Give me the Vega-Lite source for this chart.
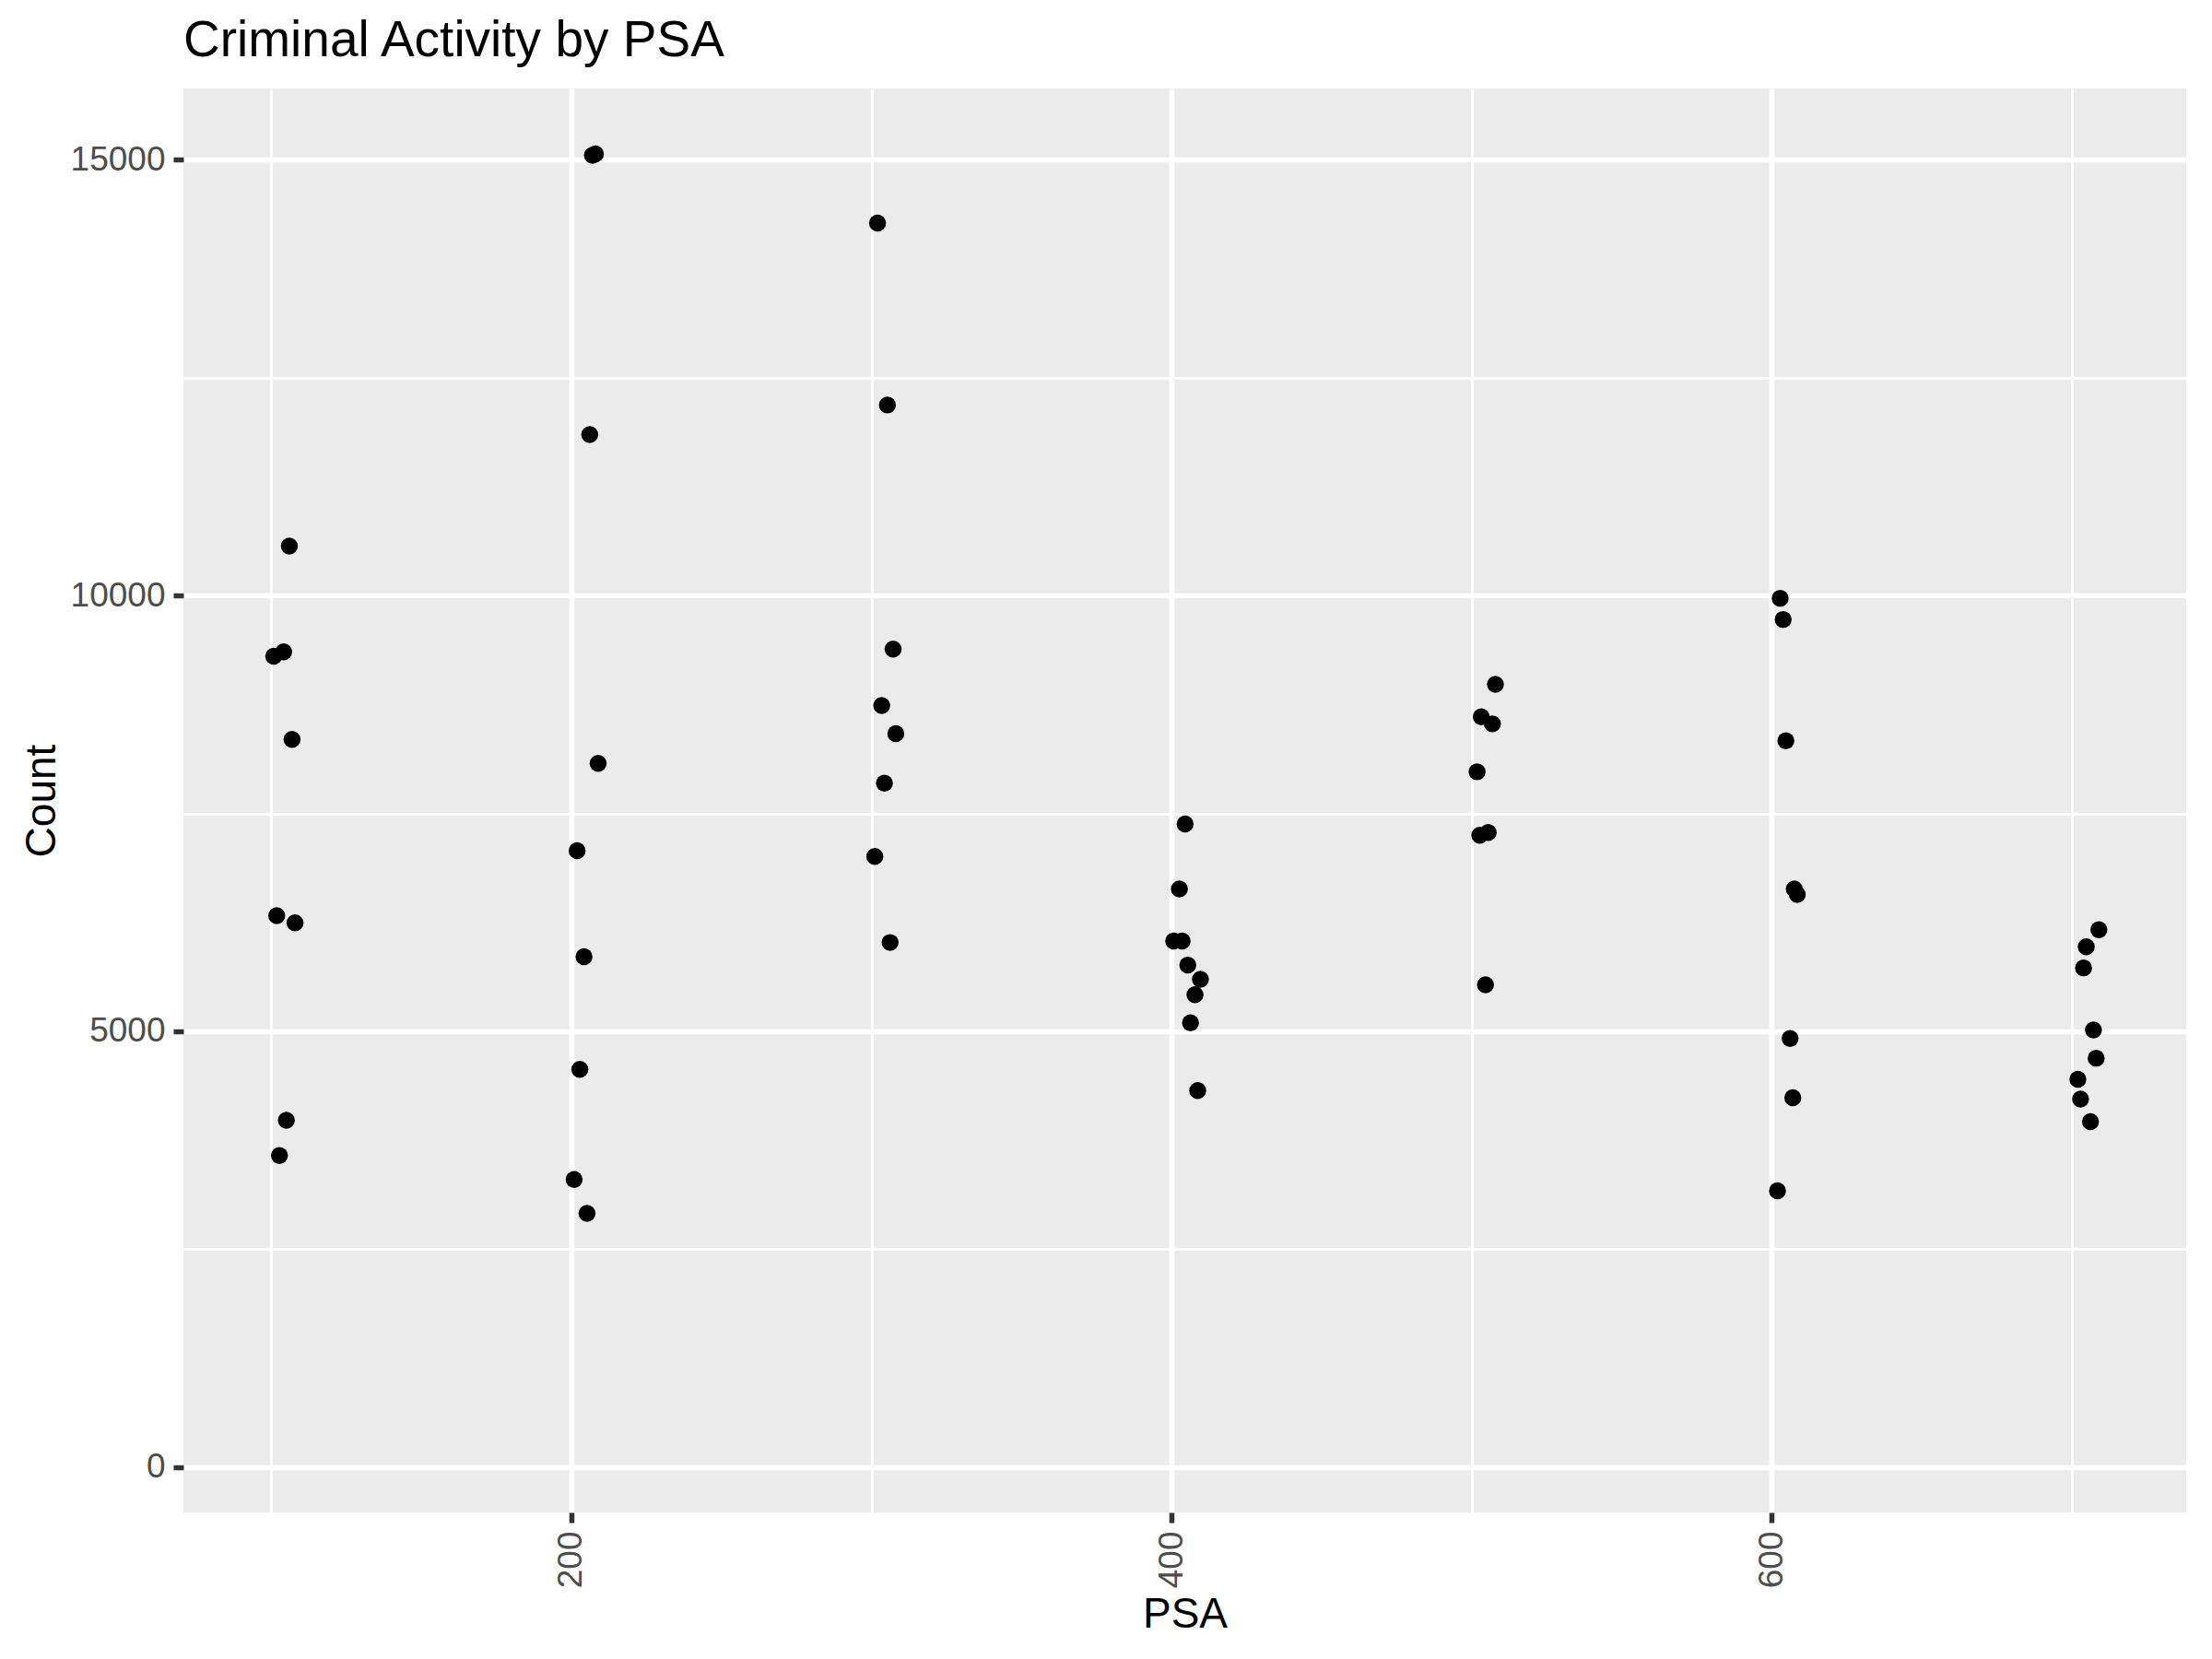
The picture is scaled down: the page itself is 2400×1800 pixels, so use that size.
{
  "$schema": "https://vega.github.io/schema/vega-lite/v6.json",
  "width": 2173,
  "height": 1545,
  "autosize": {"type": "none"},
  "padding": {"left": 199, "top": 96, "right": 28, "bottom": 159},
  "background": "white",
  "config": {
    "view": {"fill": "#EBEBEB", "stroke": null},
    "font": "Liberation Sans"
  },
  "title": {
    "text": "Criminal Activity by PSA",
    "anchor": "start",
    "frame": "group",
    "fontSize": 55,
    "fontWeight": "normal",
    "font": "Liberation Sans",
    "color": "black",
    "baseline": "alphabetic",
    "offset": -20
  },
  "data": {
    "values": [
      {"PSA": 106.0, "Count": 10566},
      {"PSA": 104.1, "Count": 9352},
      {"PSA": 100.8, "Count": 9303},
      {"PSA": 106.9, "Count": 8349},
      {"PSA": 101.8, "Count": 6326},
      {"PSA": 107.9, "Count": 6245},
      {"PSA": 105.0, "Count": 3980},
      {"PSA": 102.7, "Count": 3576},
      {"PSA": 208.0, "Count": 15064},
      {"PSA": 207.0, "Count": 15047},
      {"PSA": 206.1, "Count": 11844},
      {"PSA": 208.9, "Count": 8074},
      {"PSA": 201.9, "Count": 7071},
      {"PSA": 204.2, "Count": 5857},
      {"PSA": 202.8, "Count": 4563},
      {"PSA": 200.9, "Count": 3301},
      {"PSA": 205.2, "Count": 2912},
      {"PSA": 302.0, "Count": 14271},
      {"PSA": 305.3, "Count": 12184},
      {"PSA": 307.2, "Count": 9384},
      {"PSA": 303.4, "Count": 8737},
      {"PSA": 308.1, "Count": 8414},
      {"PSA": 304.3, "Count": 7847},
      {"PSA": 301.1, "Count": 7006},
      {"PSA": 306.2, "Count": 6019},
      {"PSA": 404.5, "Count": 7378},
      {"PSA": 402.6, "Count": 6634},
      {"PSA": 400.7, "Count": 6035},
      {"PSA": 403.5, "Count": 6035},
      {"PSA": 405.4, "Count": 5760},
      {"PSA": 409.6, "Count": 5598},
      {"PSA": 407.8, "Count": 5420},
      {"PSA": 406.3, "Count": 5097},
      {"PSA": 408.7, "Count": 4320},
      {"PSA": 507.9, "Count": 8980},
      {"PSA": 503.2, "Count": 8608},
      {"PSA": 506.9, "Count": 8527},
      {"PSA": 501.8, "Count": 7977},
      {"PSA": 505.5, "Count": 7281},
      {"PSA": 502.7, "Count": 7249},
      {"PSA": 504.6, "Count": 5534},
      {"PSA": 602.8, "Count": 9967},
      {"PSA": 603.8, "Count": 9724},
      {"PSA": 604.7, "Count": 8333},
      {"PSA": 607.5, "Count": 6634},
      {"PSA": 608.5, "Count": 6569},
      {"PSA": 606.1, "Count": 4919},
      {"PSA": 607.0, "Count": 4239},
      {"PSA": 601.9, "Count": 3171},
      {"PSA": 709.0, "Count": 6165},
      {"PSA": 704.8, "Count": 5970},
      {"PSA": 703.9, "Count": 5728},
      {"PSA": 707.2, "Count": 5016},
      {"PSA": 708.1, "Count": 4692},
      {"PSA": 702.0, "Count": 4450},
      {"PSA": 702.9, "Count": 4223},
      {"PSA": 706.2, "Count": 3964}
    ]
  },
  "mark": {"type": "circle", "size": 340, "color": "black", "opacity": 1},
  "encoding": {
    "x": {
      "field": "PSA",
      "type": "quantitative",
      "scale": {"domain": [70.7, 738.1], "nice": false, "zero": false},
      "axis": {
        "title": "PSA",
        "values": [100, 200, 300, 400, 500, 600, 700],
        "format": "d",
        "labelExpr": "datum.value % 200 === 0 ? datum.label : ''",
        "labelAngle": 270,
        "labelFontSize": 37,
        "labelColor": "#4D4D4D",
        "labelPadding": 9,
        "labelFlush": false,
        "labelOverlap": false,
        "labelBound": false,
        "tickSize": 11,
        "tickColor": "#333333",
        "tickWidth": 5.5,
        "tickOpacity": {"condition": {"test": "datum.value % 200 === 0", "value": 1}, "value": 0},
        "grid": true,
        "gridColor": "white",
        "gridOpacity": 1,
        "gridWidth": {"condition": {"test": "datum.value % 200 === 0", "value": 5.5}, "value": 2.8},
        "domain": false,
        "titleFontSize": 46,
        "titleFontWeight": "normal",
        "titleColor": "black",
        "titlePadding": 7
      }
    },
    "y": {
      "field": "Count",
      "type": "quantitative",
      "scale": {"domain": [-518, 15814], "nice": false, "zero": false},
      "axis": {
        "title": "Count",
        "values": [0, 2500, 5000, 7500, 10000, 12500, 15000],
        "format": "d",
        "labelExpr": "datum.value % 5000 === 0 ? datum.label : ''",
        "labelFontSize": 37,
        "labelColor": "#4D4D4D",
        "labelPadding": 9,
        "labelFlush": false,
        "labelOverlap": false,
        "labelBound": false,
        "tickSize": 11,
        "tickColor": "#333333",
        "tickWidth": 5.5,
        "tickOpacity": {"condition": {"test": "datum.value % 5000 === 0", "value": 1}, "value": 0},
        "grid": true,
        "gridColor": "white",
        "gridOpacity": 1,
        "gridWidth": {"condition": {"test": "datum.value % 5000 === 0", "value": 5.5}, "value": 2.8},
        "domain": false,
        "titleFontSize": 46,
        "titleFontWeight": "normal",
        "titleColor": "black",
        "titlePadding": 7
      }
    }
  }
}
